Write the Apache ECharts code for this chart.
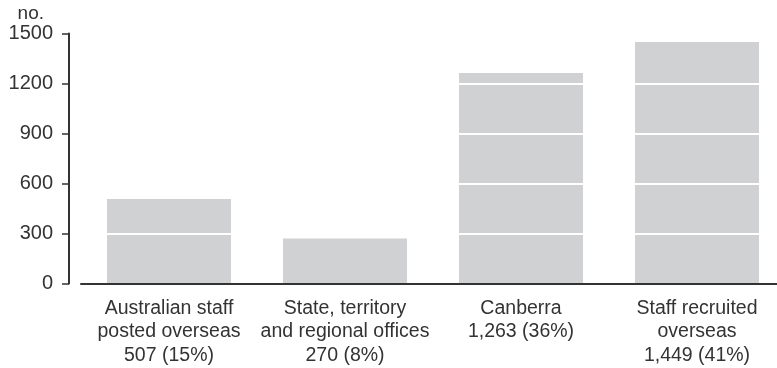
<!DOCTYPE html>
<html>
<head>
<meta charset="utf-8">
<script src="https://cdn.jsdelivr.net/npm/echarts@6/dist/echarts.min.js"></script>
<style>
  html, body { margin: 0; padding: 0; background: #fff; overflow: hidden; }
  /* the plot area runs slightly past the right edge of the window, so the x axis line bleeds off */
  #chart { width: 785px; height: 368px; }
</style>
</head>
<body>
<div id="chart"></div>
<script>
// Staff numbers by location
const categories = [
  'Australian staff\nposted overseas\n507 (15%)',
  'State, territory\nand regional offices\n270 (8%)',
  'Canberra\n1,263 (36%)',
  'Staff recruited\noverseas\n1,449 (41%)'
];
const staffCounts = [507, 270, 1263, 1449];
const yTicks = { min: 0, max: 1500, interval: 300 };

const font = '"Liberation Sans", Arial, sans-serif';
const ink = '#333333';

const chart = echarts.init(document.getElementById('chart'), null, { renderer: 'canvas' });
chart.setOption({
  animation: false,
  backgroundColor: '#ffffff',
  grid: { left: 81, right: 0, top: 33.5, bottom: 84.5, containLabel: false },
  xAxis: {
    type: 'category',
    data: categories,
    z: 5,
    axisLine: { lineStyle: { color: ink, width: 2 } },
    axisTick: { alignWithLabel: true, length: 6, lineStyle: { color: ink, width: 1.5 } },
    axisLabel: {
      interval: 0,
      margin: 13,
      color: ink,
      fontFamily: font,
      fontSize: 19.5,
      lineHeight: 23.5,
      align: 'center'
    }
  },
  yAxis: {
    type: 'value',
    min: yTicks.min,
    max: yTicks.max,
    interval: yTicks.interval,
    offset: 12,
    z: 3,
    name: 'no.',
    nameLocation: 'end',
    nameGap: 6,
    nameTextStyle: { color: ink, fontFamily: font, fontSize: 19, align: 'right', padding: [0, 25, 0, 0] },
    axisLine: { show: true, lineStyle: { color: ink, width: 2 } },
    axisTick: { show: true, length: 7, lineStyle: { color: ink, width: 1.5 } },
    axisLabel: {
      margin: 16,
      color: ink,
      fontFamily: font,
      fontSize: 20,
      formatter: (v) => String(v)
    },
    splitLine: { show: true, lineStyle: { color: '#ffffff', width: 2 } }
  },
  series: [{
    type: 'bar',
    data: staffCounts,
    barWidth: 124,
    itemStyle: { color: '#d0d1d3' },
    z: 2
  }]
});
</script>
</body>
</html>
